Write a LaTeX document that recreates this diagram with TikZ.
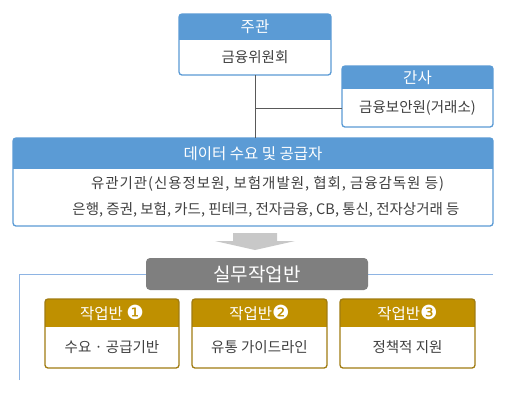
\documentclass[tikz,border=0pt]{standalone}
\usepackage{fontspec}
\setmainfont{Noto Sans CJK KR}
\newfontfamily\dejavu{DejaVu Sans}
\usetikzlibrary{calc}
\definecolor{bhead}{HTML}{5B9BD5}
\definecolor{bbord}{HTML}{5B9BD5}
\definecolor{ghead}{HTML}{BF9000}
\definecolor{gbord}{HTML}{A07C12}
\definecolor{txt}{HTML}{404040}
\definecolor{smgray}{HTML}{7F7F7F}
\definecolor{lblue}{HTML}{8EB4E3}
\definecolor{arrgray}{HTML}{C8C8C8}
\definecolor{conncol}{HTML}{595959}
\newcommand\orgbox[8]{%
  \node[draw=none, fill=white, rounded corners=3pt, inner sep=0pt, outer sep=0pt,
        minimum width={#4-#2}, minimum height={#5-#3}, anchor=north west] (#1) at (#2,#3) {};
  \begin{scope}
    \clip[rounded corners=3pt] (#2,#3) rectangle (#4,#5);
    \fill[#7] (#2,#3) rectangle (#4,#6);
  \end{scope}
  \draw[#8, line width=1.3pt, rounded corners=3pt] (#2,#3) rectangle (#4,#5);
}
\newcommand\circnum[1]{{\fontsize{19.5}{20}\selectfont\dejavu\raisebox{-0.5pt}{#1}}}
\tikzset{
  htext/.style={text=white, inner sep=0pt, font=\fontsize{15.5}{18}\selectfont},
  btext/.style={text=txt, inner sep=0pt, font=\fontsize{14.5}{17}\selectfont},
  conn/.style={draw=conncol, line width=0.8pt},
  bline/.style={draw=lblue, line width=1pt}
}
\begin{document}
\begin{tikzpicture}[x=1pt, y=-1pt]
\fill[white] (0,0) rectangle (510,400);
\useasboundingbox (0,0) rectangle (510,400);

% 주관
\orgbox{jg}{179}{14}{331}{75}{40}{bhead}{bbord}
\node[htext] (jg-t) at (255,27) {주관};
\node[btext] (jg-b) at (255,57.5) {금융위원회};

% 간사
\orgbox{gs}{342}{66}{493}{127}{89}{bhead}{bbord}
\node[htext] (gs-t) at (417.5,77.5) {간사};
\node[btext] (gs-b) at (417.5,108) {금융보안원(거래소)};

% 데이터 수요 및 공급자
\orgbox{ds}{13}{138}{493}{226}{169}{bhead}{bbord}
\node[htext] (ds-t) at (253,153.5) {데이터 수요 및 공급자};
\node[btext] (ds-b1) at (267.5,184) {\addfontfeature{LetterSpace=6.5}유관기관(신용정보원, 보험개발원, 협회, 금융감독원 등)};
\node[btext] (ds-b2) at (266,210) {은행, 증권, 보험, 카드, 핀테크, 전자금융, CB, 통신, 전자상거래 등};

% connectors
\draw[conn] (jg.south) -- (jg.south |- ds.north);
\draw[conn] (gs.west |- gs-b) -- (jg.south |- gs-b);

% arrow
\fill[arrgray] (233,233) -- (277,233) -- (277,241) -- (295,241) -- (255,250)
  -- (215,241) -- (233,241) -- cycle;

% 실무작업반 line
\coordinate (bl0) at (19,274);
\coordinate (bl1) at (19,380);
\coordinate (br) at (493,274);
\draw[bline] (bl1) -- (bl0) -- (br);
\node[fill=smgray, rounded corners=4pt, inner sep=0pt, minimum width=222, minimum height=32,
      text=white, font=\fontsize{19}{22}\selectfont] (sm) at (257,274) {실무작업반};

% 작업반
\orgbox{w1}{45}{299}{179}{368}{327}{ghead}{gbord}
\node[htext] (w1-t) at (112,313) {작업반 \circnum{❶}};
\node[btext] (w1-b) at (112,347.5) {수요 · 공급기반};

\orgbox{w2}{192}{299}{327}{368}{327}{ghead}{gbord}
\node[htext] (w2-t) at (259.5,313) {작업반\circnum{❷}};
\node[btext] (w2-b) at (259.5,347.5) {유통 가이드라인};

\orgbox{w3}{340}{299}{475}{368}{327}{ghead}{gbord}
\node[htext] (w3-t) at (407.5,313) {작업반\circnum{❸}};
\node[btext] (w3-b) at (407.5,347.5) {정책적 지원};
\end{tikzpicture}
\end{document}
